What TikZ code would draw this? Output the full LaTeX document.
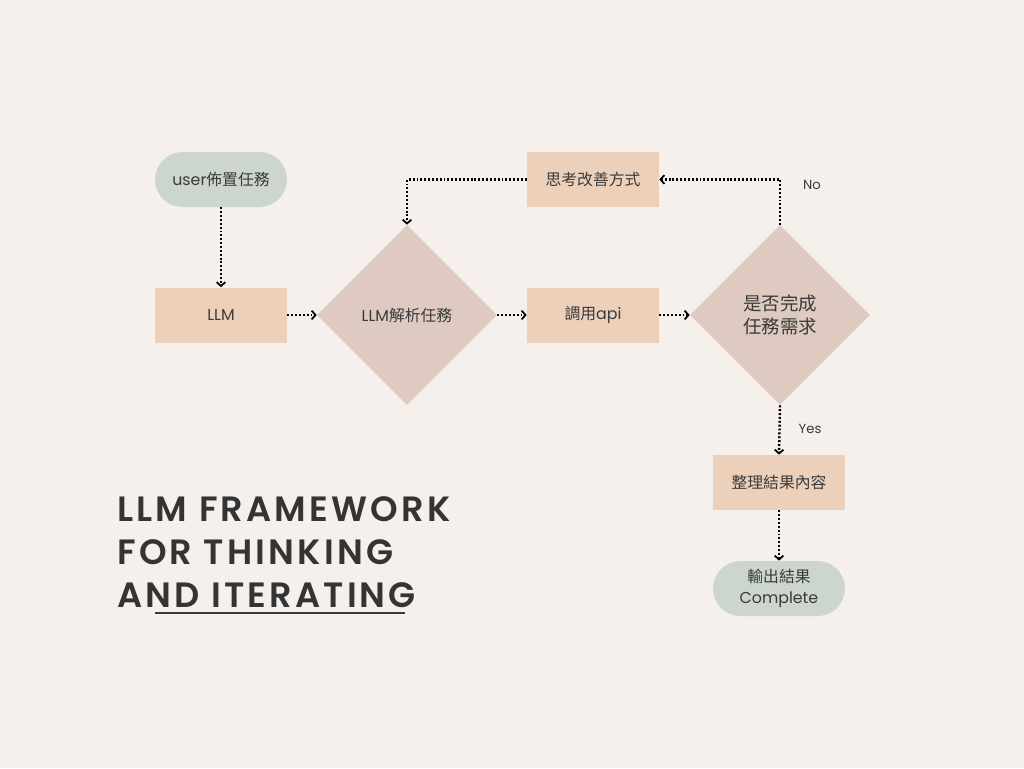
\documentclass[tikz,border=0pt]{standalone}
\usepackage{fontspec}
\setmainfont{Poppins}[BoldFont={Poppins SemiBold}]
\newfontfamily\cjk{Noto Sans CJK TC}
\usetikzlibrary{shapes.geometric,arrows.meta}

\definecolor{bgcol}{RGB}{245,240,235}
\definecolor{boxcol}{RGB}{237,208,186}
\definecolor{diacol}{RGB}{222,202,192}
\definecolor{pillcol}{RGB}{204,214,205}
\definecolor{inkcol}{RGB}{58,58,58}

\tikzset{
  stepbox/.style={rectangle, fill=boxcol, minimum width=2.64cm, minimum height=1.1cm, inner sep=0pt, font=\fontsize{9}{11}\selectfont, text=inkcol},
  pill/.style={rectangle, rounded corners=0.55cm, fill=pillcol, minimum width=2.64cm, minimum height=1.1cm, inner sep=0pt, font=\fontsize{9}{12}\selectfont, text=inkcol, align=center},
  choice/.style={diamond, fill=diacol, minimum size=3.6cm, inner sep=0pt, text=inkcol, align=center},
  flow/.style={line width=1.4pt, dash pattern=on 1.1pt off 1.1pt, -{Straight Barb[length=2.2pt,width=5pt,line width=1pt]}},
  tag/.style={font=\fontsize{7.5}{9}\selectfont, text=inkcol}
}

\begin{document}
\begin{tikzpicture}[x=0.02cm, y=-0.02cm]
  % background
  \fill[bgcol] (0,0) rectangle (1024,768);

  % nodes
  \node[pill] (start) at (221,179.5) {user{\cjk 佈置任務}};
  \node[stepbox] (llm) at (221,315) {LLM};
  \node[choice, font=\fontsize{9}{11}\selectfont] (parse) at (407,315) {LLM{\cjk 解析任務}};
  \node[stepbox] (api) at (593,315) {{\cjk 調用}api};
  \node[choice, font=\fontsize{10.5}{13}\selectfont\cjk] (check) at (780,315) {是否完成\\任務需求};
  \node[stepbox, font=\fontsize{9}{11}\selectfont\cjk] (improve) at (593,179.5) {思考改善方式};
  \node[stepbox, font=\fontsize{9}{11}\selectfont\cjk] (summary) at (779,482.5) {整理結果內容};
  \node[pill] (output) at (779,588.5) {{\cjk 輸出結果}\\Complete};

  % connectors
  \draw[flow] (start) -- (llm);
  \draw[flow] (llm) -- (parse);
  \draw[flow] (parse) -- (api);
  \draw[flow] (api) -- (check);
  \draw[flow] (check.north) |- (improve.east);
  \draw[flow] (improve.west) -| (parse.north);
  \draw[flow] (check.south) -- (summary.north);
  \draw[flow] (summary) -- (output);

  % labels
  \node[tag] (no) at (812,185) {No};
  \node[tag] (yes) at (810,429) {Yes};

  % title
  \node[anchor=north west, align=left, text=inkcol!90!black, inner sep=0pt,
        font=\addfontfeatures{LetterSpace=9}\bfseries\fontsize{20}{24.5}\selectfont] (title) at (117,496)
        {LLM FRAMEWORK\\FOR THINKING\\AND ITERATING};
  \draw[inkcol, line width=0.6pt] (155,613) -- (405,613);
\end{tikzpicture}
\end{document}
